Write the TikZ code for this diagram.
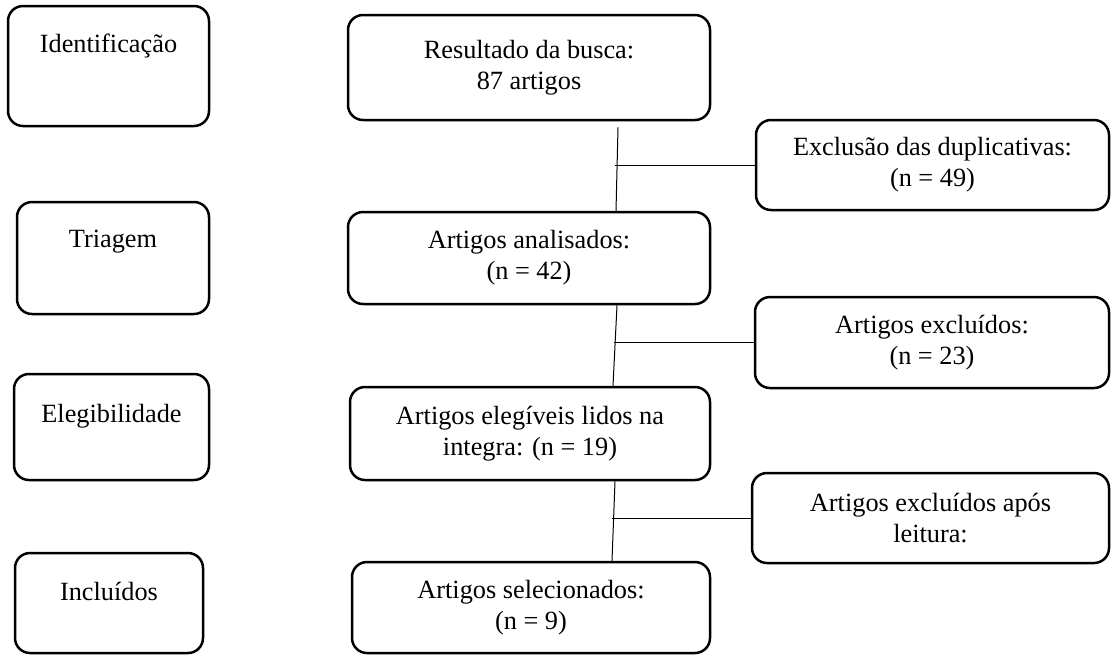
\documentclass[tikz,border=0pt]{standalone}
\usepackage{fontspec}
\setmainfont{Liberation Serif}

\begin{document}
\begin{tikzpicture} [x = 0.5pt, y = -0.5pt,
  caixa/.style = {draw, line width = 1.25pt, rounded corners = 7.5pt, align = center,
    inner sep = 0pt, font = \fontsize{13.15}{15.5}\selectfont},
  fase/.style = {font = \fontsize{13.15}{15.5}\selectfont, inner sep = 0pt},
  ligacao/.style = {line width = 0.5pt}]
\useasboundingbox (0, 0) rectangle (1112, 655);
% fases
\node[caixa, minimum width = 100.5pt, minimum height = 60pt] (ident) at (108.5, 66.0){};
\node[caixa, minimum width = 96pt, minimum height = 56pt] (triag) at (113.0, 258.0){};
\node[caixa, minimum width = 97.5pt, minimum height = 53pt] (eleg) at (111.5, 427.0){};
\node[caixa, minimum width = 94pt, minimum height = 50pt] (inclu) at (109.0, 603.0){};
\node[fase] (identt) at ([yshift = -20.5pt] ident.north){Identificação};
\node[fase] (triagt) at ([yshift = -20.5pt] triag.north){Triagem};
\node[fase] (elegt) at ([yshift = -21.5pt] eleg.north){Elegibilidade};
\node[fase] (inclut) at ([yshift = -20pt] inclu.north){Incluídos};
% fluxo principal
\node[caixa, minimum width = 181pt, minimum height = 52.5pt] (res) at (529.0, 67.5){Resultado da busca:\\87 artigos};
\node[caixa, minimum width = 181pt, minimum height = 46pt] (ana) at (529.0, 258.0){Artigos analisados:\\(n = 42)};
\node[caixa, minimum width = 180pt, minimum height = 46.5pt] (ele) at (530.0, 433.5){Artigos elegíveis lidos na\\integra: (n = 19)};
\node[caixa, minimum width = 179pt, minimum height = 45.5pt] (sel) at (531.0, 607.5){Artigos selecionados:\\(n = 9)};
% exclusoes
\node[caixa, minimum width = 176.5pt, minimum height = 45pt] (dup) at (932.5, 165.0){Exclusão das duplicativas:\\(n = 49)};
\node[caixa, minimum width = 177pt, minimum height = 45.5pt] (exc) at (932.0, 342.5){Artigos excluídos:\\(n = 23)};
\node[caixa, minimum width = 178.5pt, minimum height = 45pt] (apos) at (930.5, 518.0){Artigos excluídos após\\leitura:};
% ligacoes
\draw[ligacao] ([xshift = 44.5pt, yshift = -3pt] res.south) -- ([xshift = 43.5pt] ana.north);
\draw[ligacao] ([xshift = 44pt] ana.south) -- ([xshift = 41.5pt] ele.north);
\draw[ligacao] ([xshift = 42.5pt] ele.south) -- ([xshift = 40.5pt] sel.north);
\draw[ligacao] (dup.west) -- ++(-70pt, 0);
\draw[ligacao] (exc.west) -- ++(-70pt, 0);
\draw[ligacao] (apos.west) -- ++(-69.5pt, 0);
\end{tikzpicture}
\end{document}
